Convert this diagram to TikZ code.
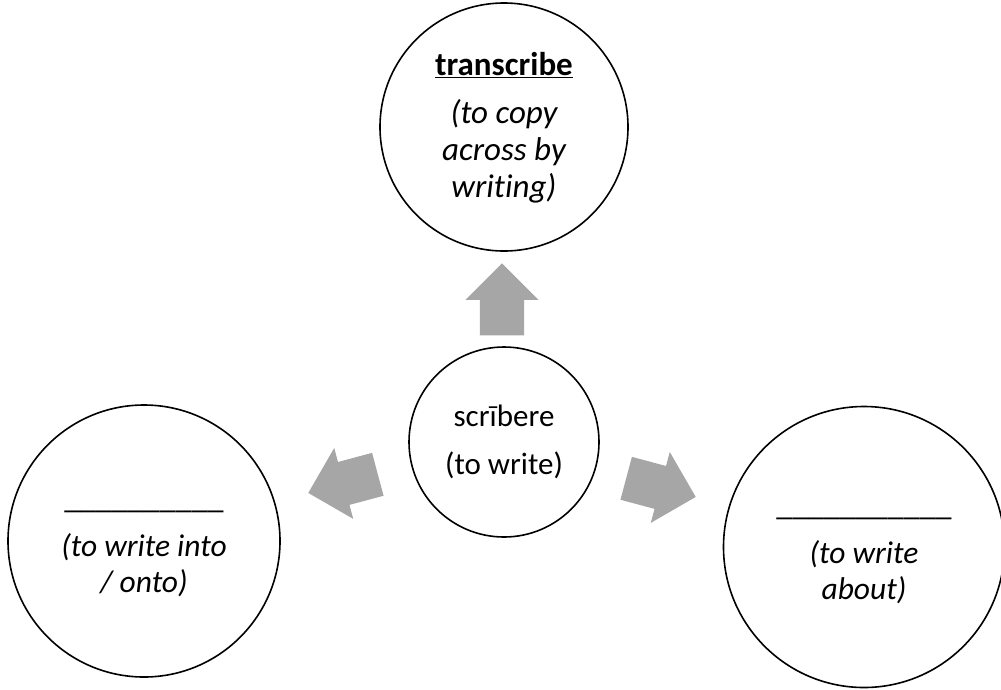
\documentclass[tikz,border=0pt]{standalone}
\usepackage{fontspec}
\setmainfont{Carlito}[Ligatures=NoCommon]
\usetikzlibrary{shapes.arrows}
\definecolor{arrowgray}{RGB}{166,166,166}
\tikzset{
  bubble/.style={circle, draw=black, line width=1.6pt, inner sep=0pt},
  label text/.style={align=center, inner sep=0pt, font=\fontsize{31.5}{36}\selectfont},
  blockarrow/.style={single arrow, fill=arrowgray, draw=none,
    inner xsep=0pt, inner ysep=22pt,
    minimum height=72pt, single arrow head extend=14.5pt,
    single arrow tip angle=90, anchor=tip}
}
\newcommand{\blankline}[1]{{\fontsize{32}{36}\selectfont\foreach \i in {1,...,#1}{\_}}}
\begin{document}
\begin{tikzpicture}[x=1pt,y=-1pt]
\useasboundingbox (0,0) rectangle (1001,689);
\clip (0,0) rectangle (1001,689);
\node[bubble, minimum size=248pt] (top) at (504,127) {};
\node[label text, font=\fontsize{33}{37}\selectfont] (toptext) at (504,128)
  {\underline{\textbf{transcribe}}\\[11pt]\itshape (to copy\\\itshape across by\\\itshape writing)};
\node[bubble, minimum size=190pt] (mid) at (504,442) {};
\node[label text, font=\fontsize{31}{36}\selectfont] (midtext) at (504,442)
  {scrībere\\[12pt](to write)};
\node[bubble, minimum size=272pt] (left) at (144,541) {};
\node[label text] (lefttext) at (144,553)
  {\blankline{10}\\[12pt]\itshape (to write into\\\itshape / onto)};
\node[bubble, minimum size=281pt] (right) at (864,547) {};
\node[label text] (righttext) at (864,560)
  {\blankline{11}\\[12pt]\itshape (to write\\\itshape about)};
\node[blockarrow, rotate=90] (aup) at (502,263) {};
\node[blockarrow, rotate=195] (aleft) at (308,493) {};
\node[blockarrow, rotate=-15] (aright) at (696,497) {};
\end{tikzpicture}
\end{document}
